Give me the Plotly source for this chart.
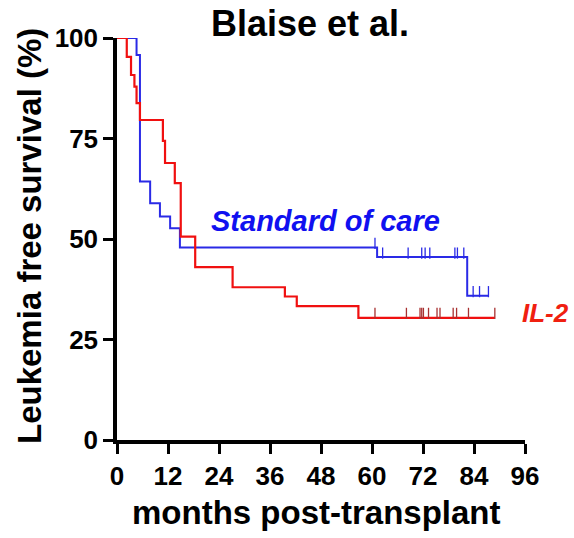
import numpy as np
import plotly.graph_objects as go

# Kaplan-Meier step data (months, % leukemia-free survival)
soc_time = [0, 4.6, 5.4, 7.8, 10.1, 12.5, 14.8, 61.2, 82.4, 87.4]
soc_surv = [100, 95.8, 64.3, 58.9, 55.6, 52.7, 47.9, 45.5, 35.9, 35.9]
soc_censor = [60.7, 62.5, 68.5, 71.7, 72.5, 73.6, 79.5, 80.1, 81.6, 83.8, 85.3, 87.4]

il2_time = [0, 2.3, 3.3, 4.1, 4.6, 5.4, 10.8, 11.3, 13.6, 15.0, 18.4, 27.2, 39.5, 42.3, 56.8, 88.9]
il2_surv = [100, 95.3, 90.8, 87.9, 83.8, 79.6, 74.4, 68.9, 63.9, 50.6, 43.0, 38.0, 35.7, 33.3, 30.4, 30.4]
il2_censor = [60.7, 68.1, 71.3, 71.7, 72.1, 73.3, 75.3, 76.0, 79.1, 79.9, 82.7, 88.9]

x_ticks = [0, 12, 24, 36, 48, 60, 72, 84, 96]
y_ticks = [0, 25, 50, 75, 100]

BLUE = "#2a2ae6"
RED = "#f01010"
FONT = "Liberation Sans, Arial, sans-serif"


def level_at(times, surv, t):
    idx = np.searchsorted(np.array(times), t, side="right") - 1
    return np.array(surv)[idx]


fig = go.Figure()

fig.add_trace(go.Scatter(x=soc_time, y=soc_surv, mode="lines", line=dict(color=BLUE, width=2, shape="hv"),
                         showlegend=False, hoverinfo="skip"))
fig.add_trace(go.Scatter(x=il2_time, y=il2_surv, mode="lines", line=dict(color=RED, width=2.2, shape="hv"),
                         showlegend=False, hoverinfo="skip"))

soc_c_y = level_at(soc_time, soc_surv, soc_censor) + 1.0
il2_c_y = level_at(il2_time, il2_surv, il2_censor) + 1.1
fig.add_trace(go.Scatter(x=soc_censor, y=soc_c_y, mode="markers",
                         marker=dict(symbol="line-ns", size=8, line=dict(color=BLUE, width=1.3)),
                         showlegend=False, hoverinfo="skip", cliponaxis=False))
fig.add_trace(go.Scatter(x=il2_censor, y=il2_c_y, mode="markers",
                         marker=dict(symbol="line-ns", size=8, line=dict(color="#a83030", width=1.3)),
                         showlegend=False, hoverinfo="skip", cliponaxis=False))

axis_common = dict(showgrid=False, zeroline=False, showline=True, linecolor="black", linewidth=3.5,
                   ticks="outside", ticklen=10, tickwidth=3, tickcolor="black",
                   tickfont=dict(family=FONT, size=26, color="black", weight="bold"))

fig.update_xaxes(range=[0, 96], tickvals=x_ticks, ticktext=[str(v) for v in x_ticks], **axis_common)
fig.update_yaxes(range=[0, 100], tickvals=y_ticks, ticktext=[str(v) for v in y_ticks], **axis_common)

fig.add_annotation(text="Blaise et al.", xref="paper", yref="paper", x=(309.5 - 117) / 408, y=1 + (38 - 23) / 402,
                   xanchor="center", yanchor="middle", showarrow=False,
                   font=dict(family=FONT, size=36, color="black", weight="bold"))
fig.add_annotation(text="months post-transplant", xref="paper", yref="paper", x=(316.7 - 117) / 408,
                   y=-(512 - 440) / 402, xanchor="center", yanchor="middle", showarrow=False,
                   font=dict(family=FONT, size=33, color="black", weight="bold"))
fig.add_annotation(text="Leukemia free survival (%)", xref="paper", yref="paper", x=-(117 - 29) / 408,
                   y=(440 - 236) / 402, xanchor="center", yanchor="middle", textangle=-90, showarrow=False,
                   font=dict(family=FONT, size=33, color="black", weight="bold"))
fig.add_annotation(text="<i>Standard of care</i>", x=49.0, y=54.5, xanchor="center", yanchor="middle",
                   showarrow=False, font=dict(family=FONT, size=29, color="#1010f0", weight="bold"))
fig.add_annotation(text="<i>IL-2</i>", xref="paper", yref="paper", x=(545.5 - 117) / 408, y=(440 - 313) / 402,
                   xanchor="center", yanchor="middle",
                   showarrow=False, font=dict(family=FONT, size=26, color="#f02010", weight="bold"))

fig.update_layout(width=574, height=538, margin=dict(l=117, r=49, t=38, b=98),
                  plot_bgcolor="white", paper_bgcolor="white")

fig.write_html("out.html")
